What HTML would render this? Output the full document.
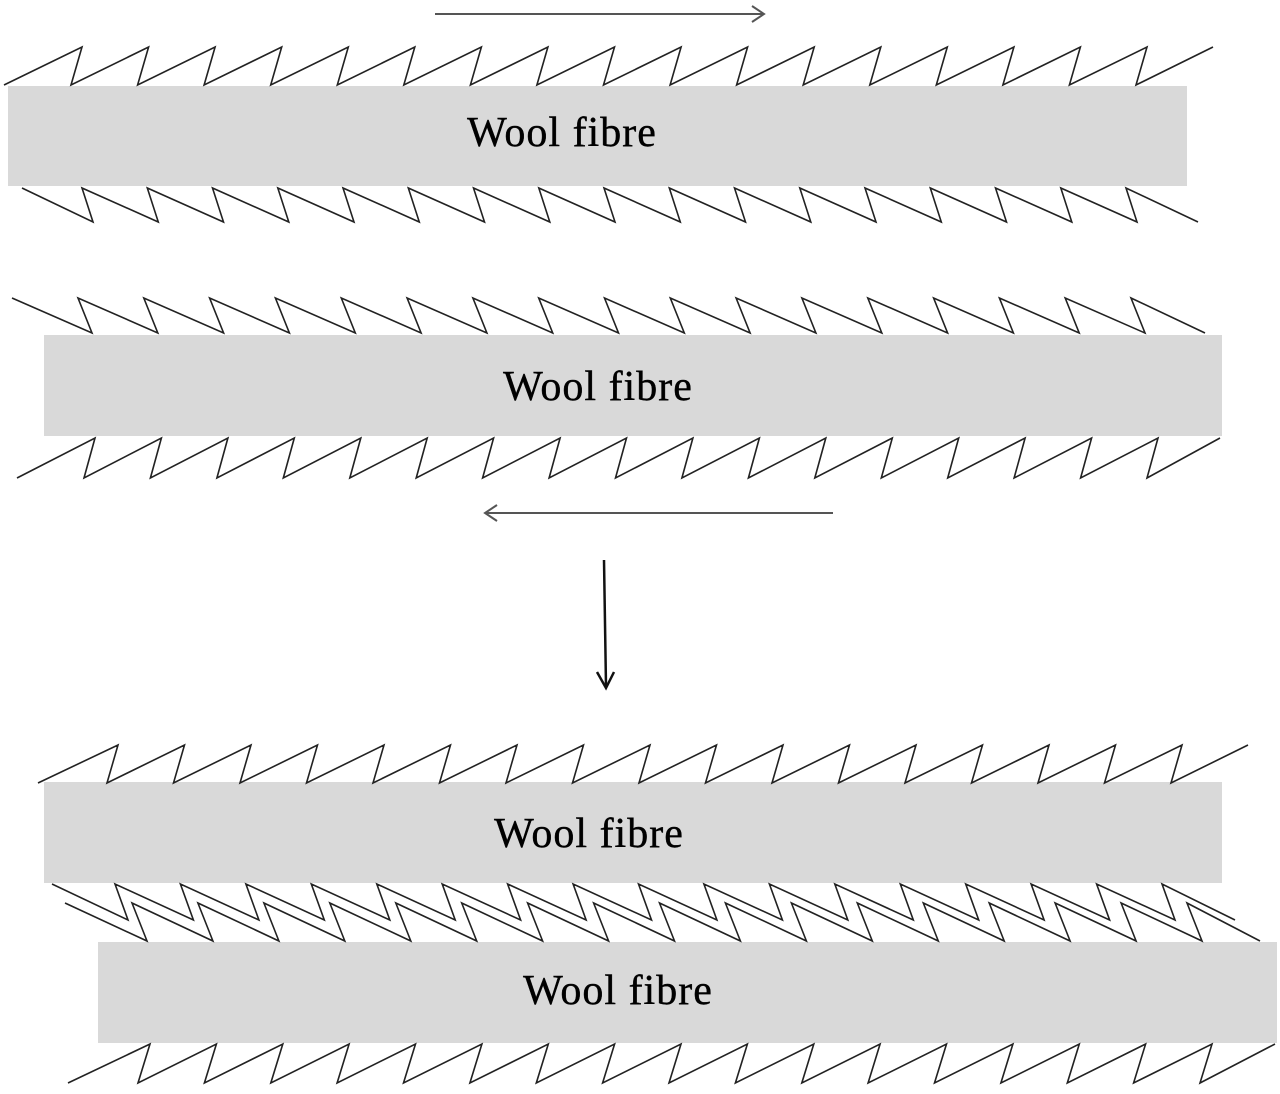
<!DOCTYPE html>
<html><head><meta charset="utf-8">
<style>
html,body{margin:0;padding:0;background:#fff;}
svg{display:block;}
text{font-family:"Liberation Serif",serif;font-size:42px;letter-spacing:1px;fill:#000;stroke:#000;stroke-width:0.4;}
</style></head>
<body>
<svg id="s" width="1280" height="1094" viewBox="0 0 1280 1094" xmlns="http://www.w3.org/2000/svg">
<rect x="8" y="86" width="1179" height="100" fill="#d9d9d9"/>
<rect x="44" y="335" width="1178" height="101" fill="#d9d9d9"/>
<rect x="44" y="782" width="1178" height="101" fill="#d9d9d9"/>
<rect x="98" y="942" width="1179" height="101" fill="#d9d9d9"/>
<text x="562" y="146" text-anchor="middle">Wool fibre</text>
<text x="598" y="400" text-anchor="middle">Wool fibre</text>
<text x="589" y="847" text-anchor="middle">Wool fibre</text>
<text x="618" y="1004" text-anchor="middle">Wool fibre</text>
<g stroke="#555" stroke-width="2" fill="none">
<line x1="435" y1="14" x2="764" y2="14"/>
<polyline points="752,6 764,14 752,22"/>
<line x1="485" y1="513" x2="833" y2="513"/>
<polyline points="497,505 485,513 497,521"/>
</g>
<g stroke="#111" stroke-width="2.5" fill="none">
<line x1="604" y1="560" x2="606" y2="686"/>
<polyline points="597,672 606,688 614,672"/>
</g>
<g id="z" stroke="#222" stroke-width="1.6" fill="none" stroke-linejoin="miter"></g>
</svg>
<script>
function zig(s,yn,first,last,n,off,yf,end){
  var p=[s+","+yn];
  var P=(last-first)/(n-1);
  for(var k=0;k<n;k++){var x=first+k*P;p.push(x.toFixed(1)+","+yf);p.push((x-off).toFixed(1)+","+yn);}
  p.push(end+","+yf);
  var e=document.createElementNS("http://www.w3.org/2000/svg","polyline");
  e.setAttribute("points",p.join(" "));
  document.getElementById("z").appendChild(e);
}
zig(4,85,82,1147,17,11,47,1213);
zig(22,188,93,1137,17,11,222,1198);
zig(12,298,92,1145,17,14,333,1205);
zig(17,478,95,1158,17,11,438,1220);
zig(38,783,118,1182,17,11,745,1248);
zig(52,884,128,1175,17,13,920,1235);
zig(65,903,147,1202,17,15,941,1260);
zig(68,1083,150,1212,17,12,1044,1275);
</script>
</body></html>
